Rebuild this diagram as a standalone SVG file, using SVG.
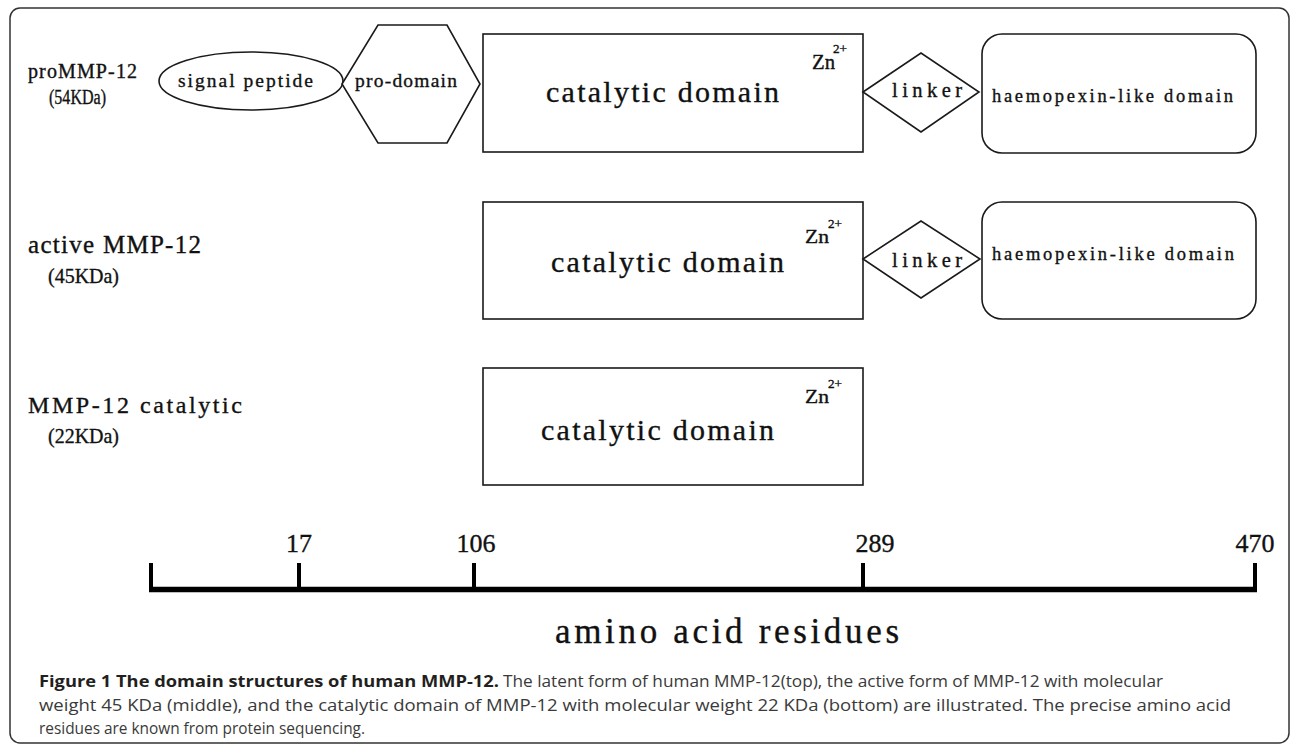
<svg xmlns="http://www.w3.org/2000/svg" width="1290" height="746" viewBox="0 0 1290 746">
<style>
.sh{fill:#fff;stroke:#1a1a1a;stroke-width:1.6}
.t{font-family:"Liberation Serif","Times New Roman",serif;fill:#111;stroke:#111;stroke-width:0.35}
.cap{font-family:"Open Sans","Liberation Sans",sans-serif;font-size:16px;fill:#3a3a3a}
.capb{font-family:"Open Sans","Liberation Sans",sans-serif;font-size:16px;font-weight:bold;fill:#231f20}
.ax{stroke:#000;fill:none}
</style>
<rect width="1290" height="746" fill="#fff"/>
<rect x="10" y="8" width="1279" height="735" rx="10" fill="none" stroke="#333" stroke-width="1.5"/>

<g id="labels">
<text class="t" x="28" y="78" font-size="20" textLength="109" lengthAdjust="spacing">proMMP-12</text>
<text class="t" x="49" y="104" font-size="20" textLength="57" lengthAdjust="spacingAndGlyphs">(54KDa)</text>
<text class="t" x="28" y="253" font-size="25" textLength="173" lengthAdjust="spacing">active MMP-12</text>
<text class="t" x="48" y="283" font-size="22" textLength="71" lengthAdjust="spacingAndGlyphs">(45KDa)</text>
<text class="t" x="28" y="413" font-size="24" textLength="214" lengthAdjust="spacing">MMP-12 catalytic</text>
<text class="t" x="48" y="443" font-size="22" textLength="71" lengthAdjust="spacingAndGlyphs">(22KDa)</text>
</g>

<g id="signal-peptide">
<ellipse class="sh" cx="251" cy="81" rx="92" ry="29"/>
<text class="t" x="178" y="87" font-size="19.5" textLength="135" lengthAdjust="spacing">signal peptide</text>
</g>
<g id="pro-domain">
<polygon class="sh" points="342,84 378,25 447,25 480,84 447,143 378,143"/>
<text class="t" x="355" y="87" font-size="19.5" textLength="102" lengthAdjust="spacing">pro-domain</text>
</g>
<g id="catalytic-1">
<rect class="sh" x="483" y="34" width="380" height="118"/>
<text class="t" x="546" y="102" font-size="30" textLength="233" lengthAdjust="spacing">catalytic domain</text>
<text class="t" x="812" y="69" font-size="20" textLength="23" lengthAdjust="spacingAndGlyphs">Zn</text>
<text class="t" x="833" y="53" font-size="12" textLength="14" lengthAdjust="spacingAndGlyphs">2+</text>
</g>
<g id="linker-1">
<polygon class="sh" points="863,92 921,53 979,92 921,132"/>
<text class="t" x="892" y="97" font-size="20.5" textLength="70" lengthAdjust="spacing">linker</text>
</g>
<g id="haemopexin-1">
<rect class="sh" x="982" y="34" width="274" height="119" rx="20"/>
<text class="t" x="992" y="102" font-size="18.5" textLength="241" lengthAdjust="spacing">haemopexin-like domain</text>
</g>

<g id="catalytic-2">
<rect class="sh" x="483" y="202" width="380" height="117"/>
<text class="t" x="551" y="272" font-size="30" textLength="233" lengthAdjust="spacing">catalytic domain</text>
<text class="t" x="805" y="243" font-size="18" textLength="24" lengthAdjust="spacingAndGlyphs">Zn</text>
<text class="t" x="828" y="228" font-size="12" textLength="14" lengthAdjust="spacingAndGlyphs">2+</text>
</g>
<g id="linker-2">
<polygon class="sh" points="863,259 921,221 980,259 921,298"/>
<text class="t" x="892" y="267" font-size="20.5" textLength="70" lengthAdjust="spacing">linker</text>
</g>
<g id="haemopexin-2">
<rect class="sh" x="982" y="202" width="274" height="117" rx="20"/>
<text class="t" x="992" y="260" font-size="18.5" textLength="242" lengthAdjust="spacing">haemopexin-like domain</text>
</g>

<g id="catalytic-3">
<rect class="sh" x="483" y="368" width="380" height="117"/>
<text class="t" x="541" y="440" font-size="30" textLength="233" lengthAdjust="spacing">catalytic domain</text>
<text class="t" x="805" y="403" font-size="18" textLength="24" lengthAdjust="spacingAndGlyphs">Zn</text>
<text class="t" x="828" y="388" font-size="12" textLength="14" lengthAdjust="spacingAndGlyphs">2+</text>
</g>

<g id="axis">
<line class="ax" x1="149" y1="589.5" x2="1257" y2="589.5" stroke-width="5.5"/>
<line class="ax" x1="151" y1="563" x2="151" y2="592" stroke-width="4"/>
<line class="ax" x1="299" y1="563" x2="299" y2="590" stroke-width="4"/>
<line class="ax" x1="474" y1="563" x2="474" y2="590" stroke-width="4"/>
<line class="ax" x1="863" y1="563" x2="863" y2="590" stroke-width="4"/>
<line class="ax" x1="1255" y1="563" x2="1255" y2="592" stroke-width="4"/>
<text class="t" x="299" y="552" font-size="26" text-anchor="middle">17</text>
<text class="t" x="476" y="552" font-size="26" text-anchor="middle">106</text>
<text class="t" x="875" y="552" font-size="26" text-anchor="middle">289</text>
<text class="t" x="1255" y="552" font-size="26" text-anchor="middle">470</text>
<text class="t" x="555" y="643" font-size="35" textLength="344" lengthAdjust="spacing">amino acid residues</text>
</g>

<g id="caption">
<text class="capb" x="39" y="687" textLength="460" lengthAdjust="spacingAndGlyphs">Figure 1 The domain structures of human MMP-12.</text>
<text class="cap" x="503" y="687" textLength="660" lengthAdjust="spacingAndGlyphs">The latent form of human MMP-12(top), the active form of MMP-12 with molecular</text>
<text class="cap" x="39" y="711" textLength="1192" lengthAdjust="spacingAndGlyphs">weight 45 KDa (middle), and the catalytic domain of MMP-12 with molecular weight 22 KDa (bottom) are illustrated. The precise amino acid</text>
<text class="cap" x="39" y="734" textLength="326" lengthAdjust="spacingAndGlyphs">residues are known from protein sequencing.</text>
</g>
</svg>
